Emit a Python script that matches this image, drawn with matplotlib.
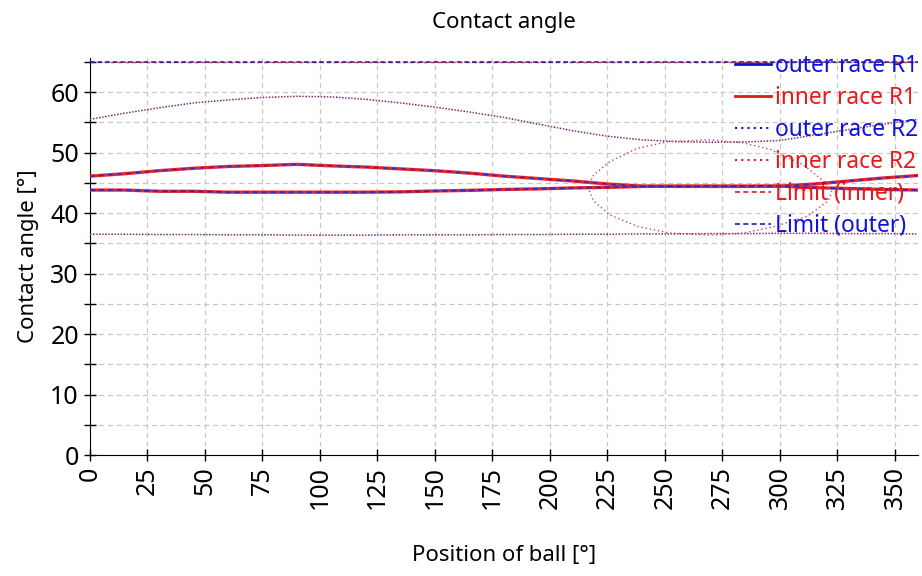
import matplotlib.pyplot as plt
from matplotlib.lines import Line2D

plt.rcParams['font.family'] = ['Noto Sans', 'DejaVu Sans']

# Row 1 contact angles
pos_r1 = [0, 15, 30, 45, 60, 75, 90, 105, 120, 135, 150, 165, 180, 195, 210, 225,
          240, 255, 270, 285, 300, 315, 330, 345, 360]
inner_r1 = [46.1, 46.5, 47.0, 47.4, 47.7, 47.85, 48.05, 47.8, 47.6, 47.3, 47.0, 46.6,
            46.1, 45.7, 45.3, 44.8, 44.45, 44.4, 44.4, 44.4, 44.45, 44.8, 45.3, 45.8, 46.2]
outer_r1 = [43.8, 43.8, 43.6, 43.6, 43.45, 43.45, 43.45, 43.45, 43.45, 43.5, 43.65, 43.75,
            43.9, 44.0, 44.15, 44.25, 44.4, 44.45, 44.45, 44.45, 44.45, 44.2, 44.05, 43.9, 43.8]

# Row 2 contact angles
pos_r2 = [0, 15, 30, 45, 60, 75, 90, 105, 120, 135, 150, 165, 180, 195, 210, 225,
          240, 255, 270, 285, 300, 315, 330, 345, 360]
upper_r2 = [55.5, 56.5, 57.4, 58.2, 58.7, 59.1, 59.3, 59.2, 58.8, 58.2, 57.5, 56.7,
            55.8, 54.7, 53.6, 52.7, 52.1, 51.8, 51.7, 51.75, 52.0, 52.9, 53.8, 54.7, 55.5]
lower_r2 = [36.5, 36.5, 36.45, 36.45, 36.4, 36.4, 36.35, 36.35, 36.35, 36.4, 36.4, 36.4,
            36.45, 36.45, 36.5, 36.5, 36.55, 36.55, 36.6, 36.6, 36.65, 36.65, 36.6, 36.6, 36.55]

# loop of inner race R2
loop_pos = [216.5, 219, 226, 238, 252, 270, 284, 296, 310, 320, 322.5, 321, 312, 297,
            284, 270, 252, 238, 226, 219, 216.5]
loop_val = [44.2, 46.3, 48.5, 50.7, 51.85, 52.1, 51.6, 50.5, 48.0, 45.0, 43.5, 42.0,
            39.5, 37.7, 36.7, 36.35, 36.7, 37.8, 39.7, 42.0, 44.2]

limit_pos = [0, 360]
limit_val = [65, 65]

fig = plt.figure(figsize=(9.22, 5.76), dpi=100)
ax = fig.add_axes([0.0976, 0.21, 0.898, 0.689])

ax.plot(pos_r1, inner_r1, color='#e8262a', lw=2.4, zorder=3)
ax.plot(pos_r1, inner_r1, color='#2a2ad0', lw=1.1, ls=(0, (3, 3)), zorder=4)
ax.plot(pos_r1, outer_r1, color='#e8262a', lw=2.4, zorder=3)
ax.plot(pos_r1, outer_r1, color='#2a2ad0', lw=1.3, ls=(0, (3, 2)), zorder=4)

for yv in (upper_r2, lower_r2):
    ax.plot(pos_r2, yv, color='#d03030', lw=1.1, ls=(0, (1, 3)), zorder=3)
    ax.plot(pos_r2, yv, color='#3030b0', lw=1.1, ls=(2, (1, 3)), zorder=3)
ax.plot(loop_pos, loop_val, color='#c84858', lw=1.0, ls=(0, (1, 2)), zorder=3)

ax.plot(limit_pos, limit_val, color='#e03030', lw=1.0, ls=(0, (3, 2)), zorder=3)
ax.plot(limit_pos, limit_val, color='#1c1ca0', lw=1.1, ls=(0, (3, 2)), zorder=4)

ax.set_xlim(0, 360)
ax.set_ylim(0, 65.6)
ax.set_xticks(range(0, 351, 25))
ax.set_yticks(range(0, 61, 10))
ax.set_yticks(range(5, 66, 10), minor=True)
ax.tick_params(axis='both', which='both', direction='inout', length=9, width=1, labelsize=18)
ax.tick_params(axis='x', labelrotation=90)
ax.grid(True, which='both', color='#c8c8c8', ls=(0, (4, 3)), lw=0.9)
ax.set_axisbelow(True)
for s in ('top', 'right'):
    ax.spines[s].set_visible(False)

ax.set_title('Contact angle', fontsize=16, pad=22)
ax.set_xlabel('Position of ball [°]', fontsize=16, labelpad=26)
ax.set_ylabel('Contact angle [°]', fontsize=16, labelpad=8)

handles = [
    Line2D([], [], color='#1010c8', lw=2),
    Line2D([], [], color='#e01818', lw=2),
    Line2D([], [], color='#1010c8', lw=1.5, ls=(0, (1, 2))),
    Line2D([], [], color='#e01818', lw=1.5, ls=(0, (1, 2))),
    Line2D([], [], color='#e01818', lw=1.2, ls=(0, (3, 2))),
    Line2D([], [], color='#2020b0', lw=1.2, ls=(0, (3, 2))),
]
labels = ['outer race R1', 'inner race R1', 'outer race R2', 'inner race R2',
          'Limit (inner)', 'Limit (outer)']
text_colors = ['#1010e0', '#e81818', '#1010e0', '#e81818', '#e81818', '#1010e0']
leg = fig.legend(handles, labels, loc='upper left', bbox_to_anchor=(0.797, 0.907),
                 frameon=False, fontsize=16.4, handlelength=1.6, handletextpad=0.15,
                 labelspacing=0.355, borderpad=0, borderaxespad=0)
for t, c in zip(leg.get_texts(), text_colors):
    t.set_color(c)

fig.savefig('out.png', dpi=100)
